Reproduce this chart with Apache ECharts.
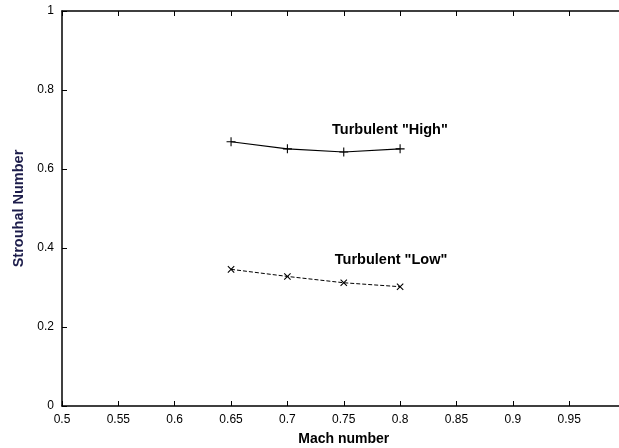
<!DOCTYPE html>
<html><head><meta charset="utf-8">
<script src="https://cdn.jsdelivr.net/npm/echarts@6/dist/echarts.min.js"></script>
<style>html,body{margin:0;padding:0;background:#fff}#c{width:619px;height:448px}</style>
</head><body><div id="c"></div>
<script>
var mach = [0.65, 0.7, 0.75, 0.8];
var highValues = [0.669, 0.651, 0.643, 0.651];
var lowValues = [0.346, 0.328, 0.312, 0.302];
var xTicks = [0.5, 0.55, 0.6, 0.65, 0.7, 0.75, 0.8, 0.85, 0.9, 0.95];
var yTicks = [0, 0.2, 0.4, 0.6, 0.8, 1];
var labelHigh = ['Turbulent "High"', 0.791, 0.699];
var labelLow = ['Turbulent "Low"', 0.792, 0.369];

var plus = 'path://M-0.12,-1H0.12V1H-0.12Z M-1,-0.12H1V0.12H-1Z';
function pairs(xs, ys){ return xs.map(function(x,i){ return [x, ys[i]]; }); }
var font = 'Liberation Sans, Arial, sans-serif';
var chart = echarts.init(document.getElementById('c'));
chart.setOption({
  animation: false,
  grid: {left: 62, top: 11, width: 563.5, height: 395, show: false, outerBoundsMode: 'none', containLabel: false},
  xAxis: [{
    type: 'value', min: 0.5, max: 1, interval: 0.05,
    name: 'Mach number', nameLocation: 'middle', nameGap: 26,
    nameTextStyle: {fontFamily: font, fontWeight: 'bold', fontSize: 14, color: '#000'},
    axisLine: {lineStyle: {color: '#000', width: 1.5}},
    axisTick: {inside: true, length: 5, lineStyle: {color: '#000'}},
    axisLabel: {fontFamily: font, fontSize: 12, color: '#000', margin: 8,
      formatter: function(v){ return (v > 0.99) ? '' : String(+v.toFixed(2)); }},
    splitLine: {show: false}
  }, {
    type: 'value', position: 'top', min: 0.5, max: 1, interval: 0.05,
    axisLine: {lineStyle: {color: '#000', width: 1.5}},
    axisTick: {inside: true, length: 5, lineStyle: {color: '#000'}},
    axisLabel: {show: false}, splitLine: {show: false}
  }],
  yAxis: [{
    type: 'value', min: 0, max: 1, interval: 0.2,
    name: 'Strouhal Number', nameLocation: 'middle', nameGap: 35,
    nameTextStyle: {fontFamily: font, fontWeight: 'bold', fontSize: 14.5, color: '#1c1c4a'},
    axisLine: {show: true, lineStyle: {color: '#000', width: 1.5}},
    axisTick: {show: true, inside: true, length: 5, lineStyle: {color: '#000'}},
    axisLabel: {fontFamily: font, fontSize: 12, color: '#000', margin: 8,
      formatter: function(v){ return String(+v.toFixed(1)); }},
    splitLine: {show: false}
  }],
  series: [{
    type: 'line', data: pairs(mach, highValues),
    symbol: plus, symbolSize: 9,
    itemStyle: {color: '#000'},
    lineStyle: {color: '#000', width: 1.2}
  }, {
    type: 'line', data: pairs(mach, lowValues),
    symbol: plus, symbolSize: 9, symbolRotate: 45,
    itemStyle: {color: '#000'},
    lineStyle: {color: '#000', width: 1, type: [4, 2]}
  }, {
    type: 'scatter', symbolSize: 0, silent: true,
    itemStyle: {color: '#000', opacity: 1},
    data: [
      {value: [labelHigh[1], labelHigh[2]], name: labelHigh[0]},
      {value: [labelLow[1], labelLow[2]], name: labelLow[0]}
    ],
    label: {show: true, position: 'inside', formatter: '{b}', opacity: 1,
      fontFamily: font, fontWeight: 'bold', fontSize: 14.5, color: '#000',
      textBorderWidth: 0, textBorderColor: 'transparent'}
  }]
});
</script></body></html>
